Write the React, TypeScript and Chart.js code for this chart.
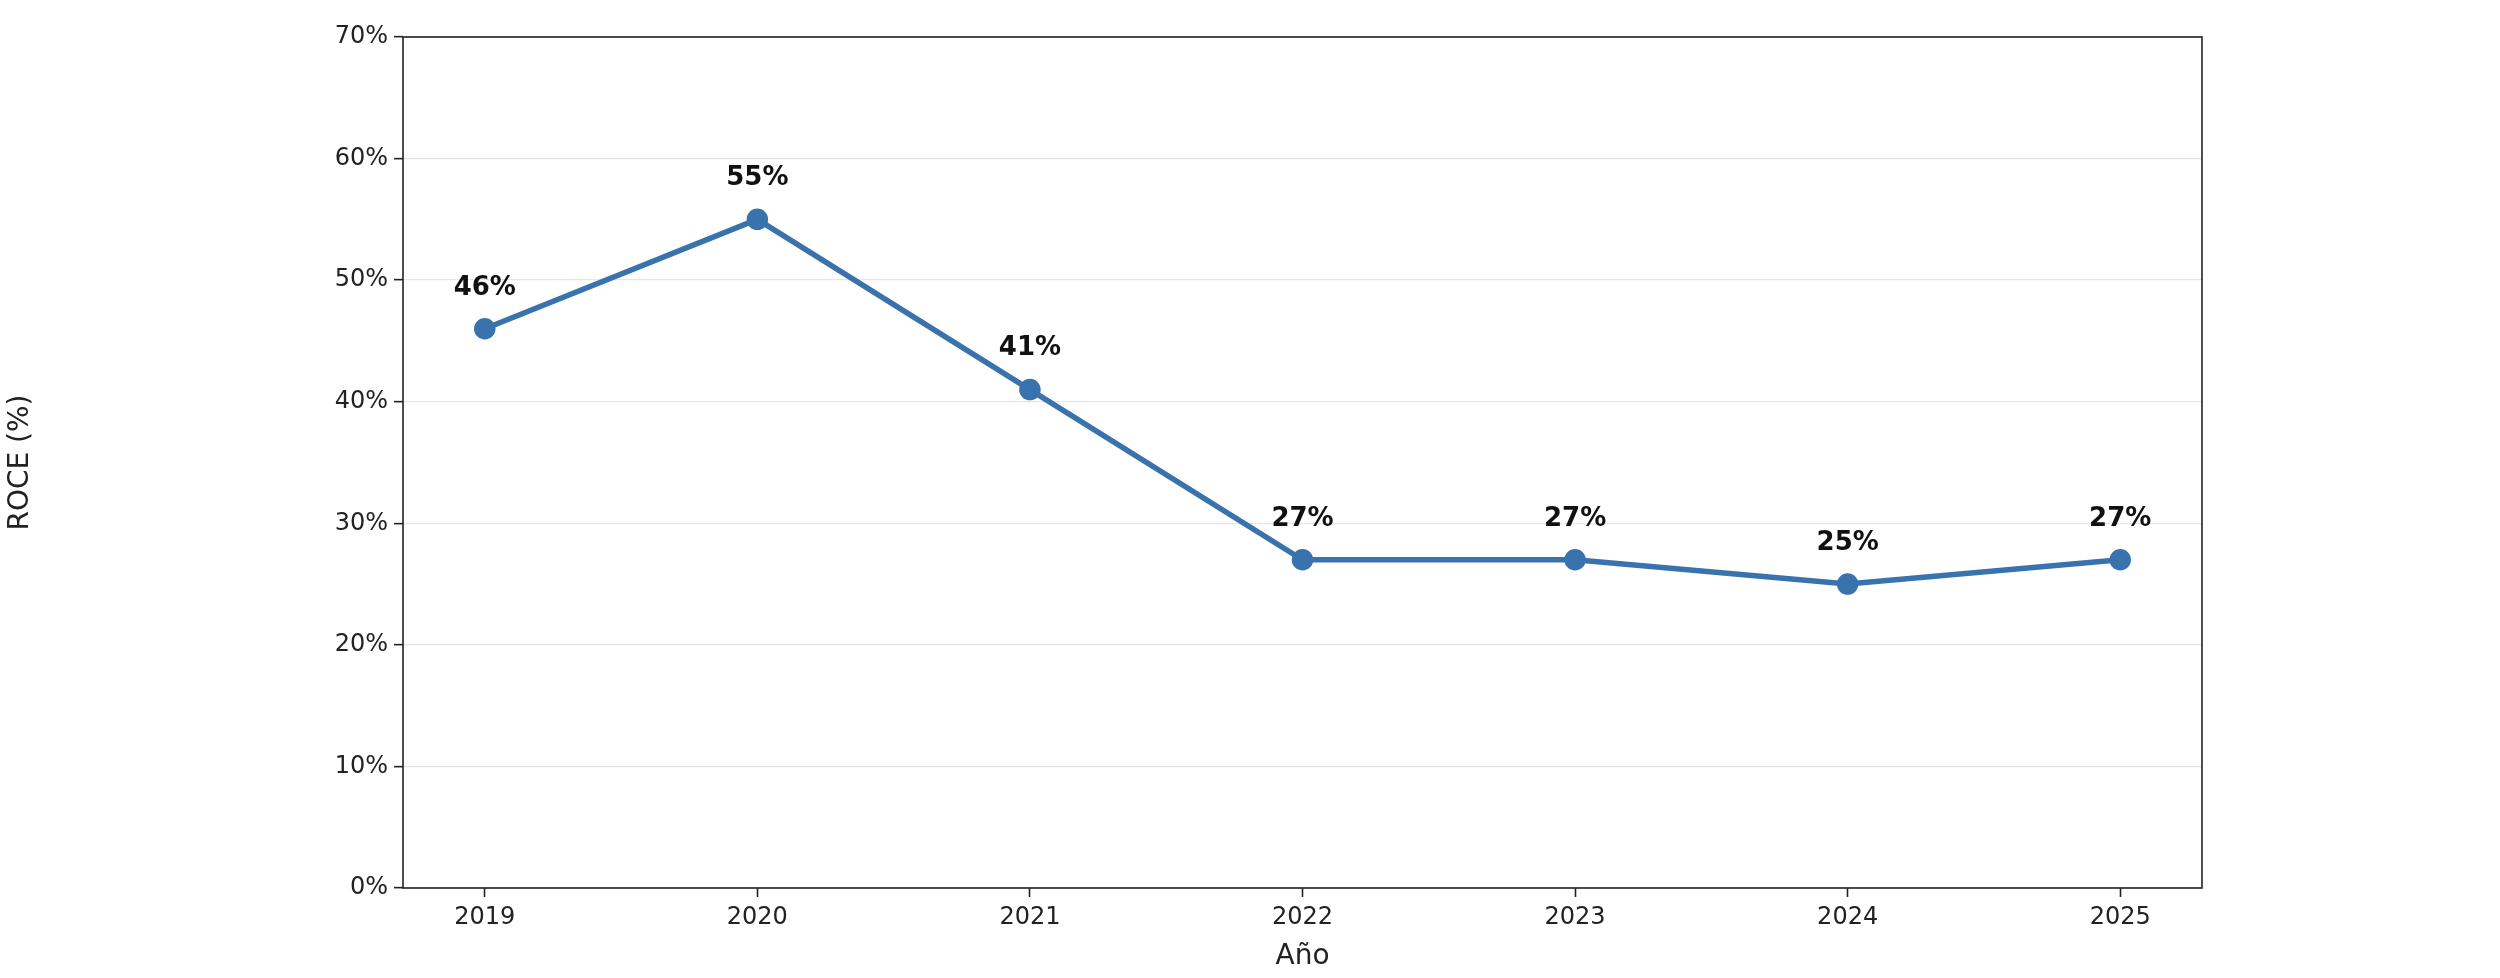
import React, { useEffect, useRef } from "react";
import { Chart, registerables } from "chart.js";
Chart.register(...registerables);

const years = [2019, 2020, 2021, 2022, 2023, 2024, 2025];
const roce = [46, 55, 41, 27, 27, 25, 27];
const yTicks = [0, 10, 20, 30, 40, 50, 60, 70];

const FONT = "'DejaVu Sans', sans-serif";

export default function App() {
  const ref = useRef<HTMLCanvasElement>(null);
  useEffect(() => {
    document.body.style.margin = "0";
    const labelPlugin = {
      id: "lbl",
      afterDatasetsDraw(chart: any) {
        const ctx = chart.ctx;
        const meta = chart.getDatasetMeta(0);
        ctx.save();
        ctx.font = `bold 26px ${FONT}`;
        ctx.fillStyle = "#111";
        ctx.textAlign = "center";
        ctx.textBaseline = "middle";
        meta.data.forEach((p: any, i: number) => {
          ctx.fillText(roce[i] + "%", p.x, p.y - 41);
        });
        const a = chart.chartArea;
        ctx.strokeStyle = "#222";
        ctx.lineWidth = 1.6;
        ctx.strokeRect(a.left, a.top, a.right - a.left, a.bottom - a.top);
        ctx.restore();
      },
    };
    const chart = new Chart(ref.current!, {
      type: "line",
      data: {
        datasets: [
          {
            data: years.map((y, i) => ({ x: y, y: roce[i] })),
            borderColor: "#3a72ad",
            backgroundColor: "#3a72ad",
            borderWidth: 5.5,
            pointRadius: 8,
            pointHoverRadius: 8,
          },
        ],
      },
      options: {
        animation: false,
        responsive: false,
        layout: { padding: { left: 0, right: 298, top: 37, bottom: 0 } },
        plugins: { legend: { display: false }, tooltip: { enabled: false } },
        scales: {
          x: {
            type: "linear",
            min: 2018.7,
            max: 2025.3,
            afterBuildTicks: (s: any) => {
              s.ticks = years.map((v) => ({ value: v }));
            },
            afterFit: (s: any) => {
              s.height = 90;
            },
            grid: { drawOnChartArea: false, tickLength: 9, tickColor: "#222", tickWidth: 1.6 },
            border: { display: false },
            ticks: { font: { size: 24, family: FONT }, color: "#222", callback: (v: any) => String(v), padding: 6 },
            title: { display: true, text: "Año", font: { size: 28, family: FONT }, color: "#222", padding: { top: 2 } },
          },
          y: {
            min: 0,
            max: 70,
            afterBuildTicks: (s: any) => {
              s.ticks = yTicks.map((v) => ({ value: v }));
            },
            afterFit: (s: any) => {
              s.width = 403;
            },
            grid: { color: "#e6e6e6", lineWidth: 1.3, tickLength: 9, tickColor: "#222", tickWidth: 1.6 },
            border: { display: false },
            ticks: { font: { size: 24, family: FONT }, color: "#222", callback: (v: any) => v + "%", padding: 6 },
            title: { display: true, text: "ROCE (%)", font: { size: 28, family: FONT }, color: "#222", padding: { bottom: 14 } },
          },
        },
      },
      plugins: [labelPlugin],
    });
    return () => chart.destroy();
  }, []);
  return (
    <div style={{ width: 2500, height: 978, background: "#fff" }}>
      <canvas ref={ref} width={2500} height={978} style={{ width: 2500, height: 978 }} />
    </div>
  );
}
